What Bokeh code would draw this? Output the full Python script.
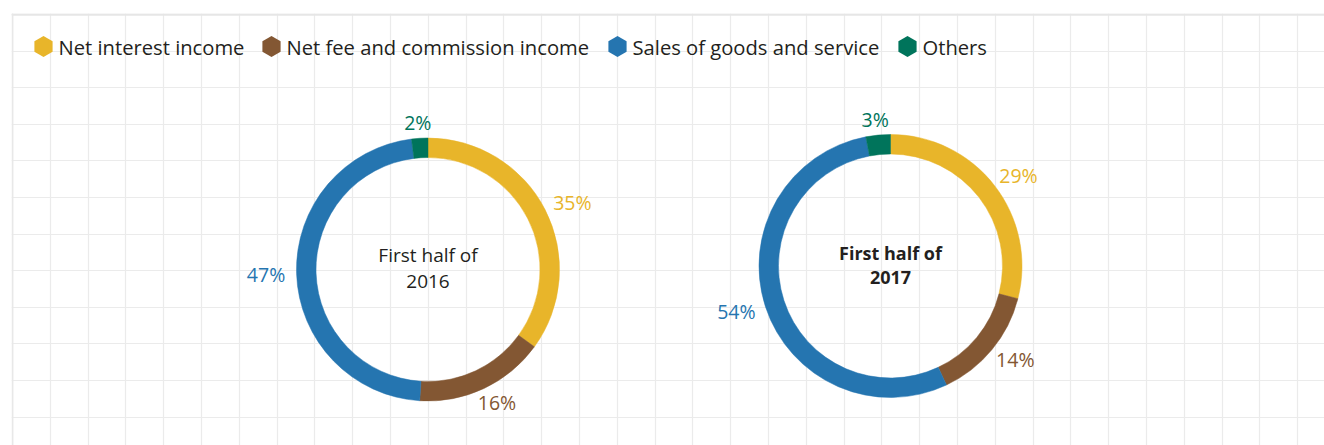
import numpy as np
from bokeh.plotting import figure
from bokeh.models import Range1d, FixedTicker, ColumnDataSource, Span
from bokeh.core.properties import value
from bokeh.embed import file_html
from bokeh.resources import INLINE

# ---- data ----
categories = ["Net interest income", "Net fee and commission income",
              "Sales of goods and service", "Others"]
periods = ["First half of\n2016", "First half of\n2017"]
share_2016 = [35, 16, 47, 2]
share_2017 = [29, 14, 54, 3]

# ---- styles / layout ----
colors = ["#E8B52A", "#835733", "#2575B0", "#00745B"]
FONT = "Open Sans"
centers = [(427.5, -269.0), (890.0, -265.5)]
center_styles = ["normal", "bold"]
center_sizes = ["19px", "18px"]
R_OUT, R_IN = 131.5, 112.0
LBL_RX, LBL_RY = 162.0, 147.0
legend_x = [43, 271, 617, 907]
legend_y = -46

p = figure(width=1324, height=445, output_backend="svg", toolbar_location=None,
           x_range=Range1d(11, 1324), y_range=Range1d(-445, -13),
           min_border_left=11, min_border_top=13, min_border_right=0, min_border_bottom=0)
p.axis.visible = False
p.outline_line_color = None
p.background_fill_color = "white"
p.border_fill_color = "white"

# grid
p.xgrid.ticker = FixedTicker(ticks=list(12 + 37.8 * np.arange(0, 36)))
p.ygrid.ticker = FixedTicker(ticks=list(-(14 + 36.6 * np.arange(0, 13))))
p.grid.grid_line_color = "#EBEBEB"
p.grid.grid_line_width = 1.2
p.add_layout(Span(location=-14, dimension="width", line_color="#E6E6E6", line_width=2.5))
p.add_layout(Span(location=12, dimension="height", line_color="#E8E8E8", line_width=1.8))

for (cx, cy), shares, period, style, csize in zip(centers, [share_2016, share_2017], periods,
                                                  center_styles, center_sizes):
    vals = np.array(shares, dtype=float)
    frac = vals / vals.sum()
    cum_end = np.cumsum(frac)
    cum_start = cum_end - frac
    start = np.pi / 2 - 2 * np.pi * cum_start
    end = np.pi / 2 - 2 * np.pi * cum_end
    src = ColumnDataSource(dict(x=[cx] * len(vals), y=[cy] * len(vals), start=start, end=end,
                                color=colors))
    p.annular_wedge(x="x", y="y", inner_radius=R_IN, outer_radius=R_OUT,
                    start_angle="start", end_angle="end", direction="clock",
                    fill_color="color", line_color="color", line_width=0.5, source=src)
    mid = 2 * np.pi * (cum_start + cum_end) / 2  # clockwise from top
    lx = cx + LBL_RX * np.sin(mid)
    ly = cy + LBL_RY * np.cos(mid)
    lsrc = ColumnDataSource(dict(x=lx, y=ly, t=[f"{v:g}%" for v in shares], color=colors))
    p.text(x="x", y="y", text="t", text_color="color", source=lsrc,
           text_font=value(FONT), text_font_size="19.5px",
           text_align="center", text_baseline="middle")
    p.text(x=[cx], y=[cy + 1.5], text=[period], text_color="#231F20",
           text_font=value(FONT), text_font_size=csize, text_font_style=style,
           text_align="center", text_baseline="middle", text_line_height=1.0)

# legend
p.scatter(x=legend_x, y=[legend_y] * 4, marker="hex", size=21, angle=np.pi / 2,
          fill_color=colors, line_color=None)
p.text(x=[x + 15 for x in legend_x], y=[legend_y] * 4, text=categories,
       text_color="#231F20", text_font=value(FONT), text_font_size="20.2px",
       text_align="left", text_baseline="middle")

open("out.html", "w").write(file_html(p, INLINE))
